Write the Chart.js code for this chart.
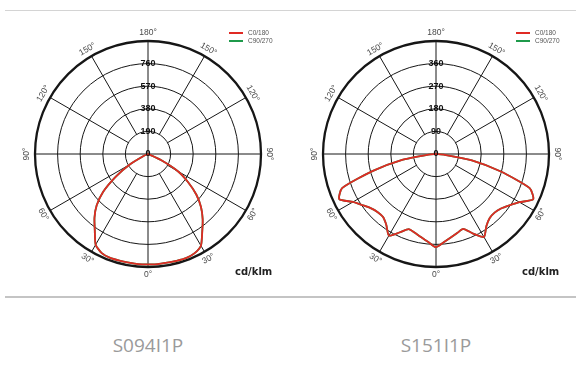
<!DOCTYPE html>
<html>
<head>
<meta charset="utf-8">
<script src="https://cdn.jsdelivr.net/npm/chart.js@4.4.0/dist/chart.umd.min.js"></script>
<style>
  body { margin: 0; background: #fff; width: 576px; height: 379px; position: relative; overflow: hidden; font-family: "Liberation Sans", sans-serif; }
  .rule { position: absolute; left: 5px; right: 0; }
  canvas { position: absolute; top: 12px; }
  .leg { position: absolute; font-size: 6.5px; color: #555; line-height: 8px; }
  .leg span { display: inline-block; width: 14px; height: 1.6px; vertical-align: middle; margin-right: 5px; }
  .unit { position: absolute; font: bold 10px "DejaVu Sans", sans-serif; color: #222; top: 266px; }
  .title { position: absolute; top: 336px; width: 200px; text-align: center; font: 19px "Open Sans", sans-serif; line-height: 19px; color: #9a9a9a; }
</style>
</head>
<body>
<div class="rule" style="top:10px;border-top:1px solid #d4d4d4"></div>
<div class="rule" style="top:296px;border-top:2px solid #c4c4c4"></div>

<canvas id="chartA" width="288" height="285" style="left:0"></canvas>
<canvas id="chartB" width="288" height="285" style="left:288px"></canvas>

<div class="leg" style="left:229px;top:29px"><span style="background:#e02a24"></span>C0/180<br><span style="background:#1f9a4b"></span>C90/270</div>
<div class="leg" style="left:516px;top:29px"><span style="background:#e02a24"></span>C0/180<br><span style="background:#1f9a4b"></span>C90/270</div>

<div class="unit" style="left:235px">cd/klm</div>
<div class="unit" style="left:522px">cd/klm</div>

<div class="title" style="left:48px">S094I1P</div>
<div class="title" style="left:336px">S151I1P</div>

<script>
// gamma angles of each half plane, 5 degree steps, bottom (0) to top (180)
const gammas = [0, 5, 10, 15, 20, 25, 30, 35, 40, 45, 50, 55, 60, 65, 70, 75, 80, 85, 90,
  95, 100, 105, 110, 115, 120, 125, 130, 135, 140, 145, 150, 155, 160, 165, 170, 175, 180];

// S094I1P, cd/klm
const s094C0 = [928, 930, 928, 930, 932, 922, 890, 795, 715, 630, 530, 410, 290, 120, 0, 0, 0, 0, 0,
  0, 0, 0, 0, 0, 0, 0, 0, 0, 0, 0, 0, 0, 0, 0, 0, 0, 0];
const s094C180 = [928, 929, 927, 928, 930, 920, 880, 780, 700, 610, 490, 330, 180, 45, 0, 0, 0, 0, 0,
  0, 0, 0, 0, 0, 0, 0, 0, 0, 0, 0, 0, 0, 0, 0, 0, 0, 0];
const s094Ticks = [0, 190, 380, 570, 760];
const s094Max = 950;

// S151I1P, cd/klm
const s151C0 = [371, 353, 338, 326, 317, 350, 382, 350, 333, 330, 338, 357, 384, 427, 397, 265, 145, 35, 0,
  0, 0, 0, 0, 0, 0, 0, 0, 0, 0, 0, 0, 0, 0, 0, 0, 0, 0];
const s151C180 = [371, 352, 337, 325, 318, 345, 375, 345, 328, 328, 337, 356, 382, 425, 398, 260, 140, 30, 0,
  0, 0, 0, 0, 0, 0, 0, 0, 0, 0, 0, 0, 0, 0, 0, 0, 0, 0];
const s151Ticks = [0, 90, 180, 270, 360];
const s151Max = 450;

const spokeStep = 30;
const red = '#e02a24';
const green = '#1f9a4b';
const gridColor = '#161616';

// radar goes clockwise from the bottom: left half (C180) first, then right half (C0) back up
function fullCircle(c180, c0) {
  return c180.concat(c0.slice(1, c0.length - 1).reverse());
}
const circleLabels = fullCircle(gammas, gammas);

function decoPlugin(ticks) {
  return {
    id: 'deco',
    beforeDatasetsDraw(chart) {
      const s = chart.scales.r;
      const ctx = chart.ctx;
      const inner = s.getDistanceFromCenterForValue(ticks[1]);
      ctx.save();
      ctx.strokeStyle = gridColor;
      ctx.lineWidth = 1;
      circleLabels.forEach((g, i) => {
        if (g % spokeStep !== 0 || g % 90 === 0) return;
        const a = s.getPointPosition(i, inner);
        const b = s.getPointPosition(i, s.drawingArea);
        ctx.beginPath();
        ctx.moveTo(a.x, a.y);
        ctx.lineTo(b.x, b.y);
        ctx.stroke();
      });
      ctx.restore();
    },
    afterDatasetsDraw(chart) {
      const s = chart.scales.r;
      const ctx = chart.ctx;
      const half = (circleLabels.length) / 2;
      ctx.save();
      // value labels up the vertical axis
      ctx.font = 'bold 9px "Liberation Sans"';
      ctx.fillStyle = '#111';
      ctx.textAlign = 'center';
      ctx.textBaseline = 'middle';
      ticks.forEach(v => {
        ctx.fillText(String(v), s.xCenter, s.yCenter - s.getDistanceFromCenterForValue(v));
      });
      // angle labels, turned along the circle
      ctx.font = '8.5px "Liberation Sans"';
      ctx.fillStyle = '#4a4a4a';
      circleLabels.forEach((g, i) => {
        if (g % spokeStep !== 0) return;
        const p = s.getPointPosition(i, s.drawingArea + 8);
        let rot = 0;
        if (i > 0 && i < half) rot = g >= 90 ? -(180 - g) : g;
        else if (i > half) rot = g >= 90 ? (180 - g) : -g;
        ctx.save();
        ctx.translate(p.x, p.y);
        ctx.rotate(rot * Math.PI / 180);
        ctx.fillText(g + '°', 0, 0);
        ctx.restore();
      });
      ctx.restore();
    }
  };
}

function makeChart(id, c0, c180, ticks, max) {
  new Chart(document.getElementById(id), {
    type: 'radar',
    data: {
      labels: circleLabels,
      datasets: [
        { label: 'C0/180', data: fullCircle(c180, c0), borderColor: red, borderWidth: 1.8 },
        // C90/270 coincides with C0/180, so it stays hidden under the red curve
        { label: 'C90/270', data: fullCircle(c180, c0), borderColor: green, borderWidth: 1.8 }
      ]
    },
    options: {
      responsive: false,
      animation: false,
      layout: { padding: { left: 35, right: 26, top: 29, bottom: 29 } },
      elements: {
        point: { radius: 0, hoverRadius: 0 },
        line: { fill: false, tension: 0.2 }
      },
      plugins: { legend: { display: false }, tooltip: { enabled: false } },
      scales: {
        r: {
          startAngle: 180,
          min: 0,
          max: max,
          ticks: { display: false, stepSize: ticks[1] },
          pointLabels: { display: false },
          grid: {
            circular: true,
            color: gridColor,
            lineWidth: ctx => (ctx.tick && ctx.tick.value === max ? 2.3 : 1)
          },
          angleLines: {
            color: gridColor,
            lineWidth: ctx => (circleLabels[ctx.index] % 90 === 0 ? 1 : 0)
          }
        }
      }
    },
    plugins: [decoPlugin(ticks)]
  });
}

makeChart('chartA', s094C0, s094C180, s094Ticks, s094Max);
makeChart('chartB', s151C0, s151C180, s151Ticks, s151Max);
</script>
</body>
</html>
